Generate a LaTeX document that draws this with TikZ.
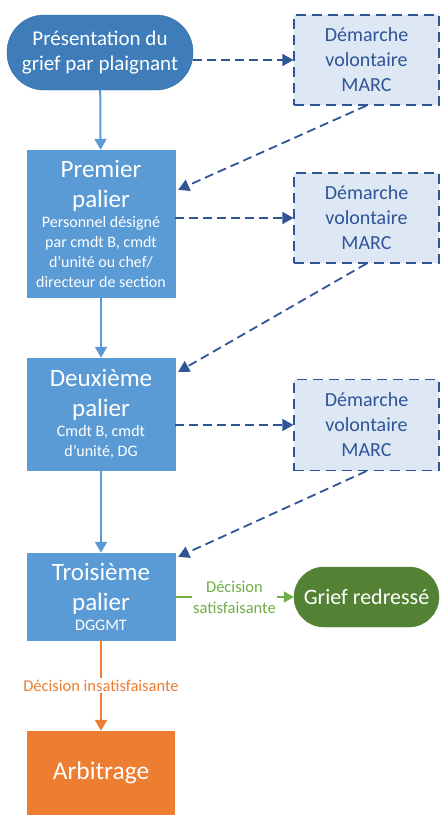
\documentclass[tikz,border=0pt]{standalone}
\usepackage{fontspec}
\setmainfont{Carlito}
\usetikzlibrary{arrows.meta}

\definecolor{pillblue}{RGB}{62,124,186}
\definecolor{pillline}{RGB}{50,100,160}
\definecolor{palierblue}{RGB}{91,155,213}
\definecolor{marcfill}{RGB}{222,232,245}
\definecolor{marcdark}{RGB}{47,85,151}
\definecolor{okgreen}{RGB}{84,130,53}
\definecolor{lightgreen}{RGB}{112,173,71}
\definecolor{arbiorange}{RGB}{237,125,49}

% title of a level, then who handles it
\newcommand{\paliertxt}[2]{\parbox{148pt}{\centering
    \fontsize{25}{30}\selectfont #1\par
    \fontsize{16}{20}\selectfont #2\par}}

\begin{document}
\begin{tikzpicture}[x=1pt,y=-1pt,
    palier/.style={fill=palierblue, draw=palierblue, text=white,
        minimum width=148pt, inner sep=0pt},
    marcbox/.style={fill=marcfill, draw=marcdark, line width=1.2pt, dash pattern=on 10pt off 6pt,
        text=marcdark, align=center, minimum width=145pt, inner sep=0pt,
        font=\fontsize{20}{25}\selectfont},
    flow/.style={draw=palierblue, line width=2pt, -{Triangle[length=11pt,width=12pt]}},
    marcflow/.style={draw=marcdark, line width=1.8pt, dash pattern=on 9pt off 5pt,
        -{Triangle[length=11pt,width=12pt]}}]

    % Frame of the picture
    \useasboundingbox (0,0) rectangle (440,815);

    % Start: the grievance
    \node[fill=pillblue, draw=pillline, text=white, align=center, rounded corners=37pt,
        minimum width=186pt, minimum height=75pt, inner sep=0pt,
        font=\fontsize{21}{25}\selectfont] (plainte) at (100,52.5)
        {Présentation du\\grief par plaignant};

    % The three levels
    \node[palier, minimum height=147pt] (prem) at (101,223.5)
        {\paliertxt{Premier\\palier}{Personnel désigné\\par cmdt B, cmdt\\d’unité ou chef/\\directeur de section}};
    \node[palier, minimum height=112pt] (deux) at (101,414)
        {\paliertxt{Deuxième\\palier}{Cmdt B, cmdt\\d’unité, DG}};
    \node[palier, minimum height=87pt] (trois) at (101,596.5)
        {\paliertxt{Troisième\\palier}{DGGMT}};

    % Voluntary ADR steps
    \node[marcbox, minimum height=90pt] (marca) at (366.5,60) {Démarche\\volontaire\\MARC};
    \node[marcbox, minimum height=90pt] (marcb) at (366.5,218) {Démarche\\volontaire\\MARC};
    \node[marcbox, minimum height=91pt] (marcc) at (366.5,425) {Démarche\\volontaire\\MARC};

    % Outcomes
    \node[fill=okgreen, draw=okgreen, text=white, rounded corners=30pt,
        minimum width=145pt, minimum height=60pt, inner sep=0pt,
        font=\fontsize{22}{26}\selectfont] (redresse) at (366.5,597) {Grief redressé};
    \node[fill=arbiorange, text=white, minimum width=148pt, minimum height=84pt,
        inner sep=0pt, font=\fontsize{25.5}{30}\selectfont] (arbi) at (101,773) {Arbitrage};

    % Main path
    \draw[flow] (plainte) -- (prem);
    \draw[flow] (prem) -- (deux);
    \draw[flow] (deux) -- (trois);

    % Out to MARC and back
    \draw[marcflow] (plainte.east |- marca) -- (marca.west);
    \draw[marcflow] (marca.south) -- ([xshift=3pt,yshift=-40pt]prem.north east);
    \draw[marcflow] (prem.east |- marcb) -- (marcb.west);
    \draw[marcflow] (marcb.south) -- ([xshift=3pt,yshift=-14pt]deux.north east);
    \draw[marcflow] (deux.east |- marcc) -- (marcc.west);
    \draw[marcflow] (marcc.south) -- ([xshift=3pt,yshift=-4pt]trois.north east);

    % Decisions
    \draw[lightgreen, line width=1.6pt, -{Triangle[length=10pt,width=11pt]}]
        (trois.east |- redresse) -- node[fill=white, text=lightgreen, align=center, inner sep=1pt,
        font=\fontsize{16.5}{21}\selectfont] (satis) {Décision\\satisfaisante} (redresse.west);
    \draw[arbiorange, line width=2pt, -{Triangle[length=11pt,width=12pt]}]
        (trois) -- node[fill=white, text=arbiorange, inner sep=2pt,
        font=\fontsize{16.5}{20}\selectfont] (insatis) {Décision insatisfaisante} (arbi);

\end{tikzpicture}
\end{document}
